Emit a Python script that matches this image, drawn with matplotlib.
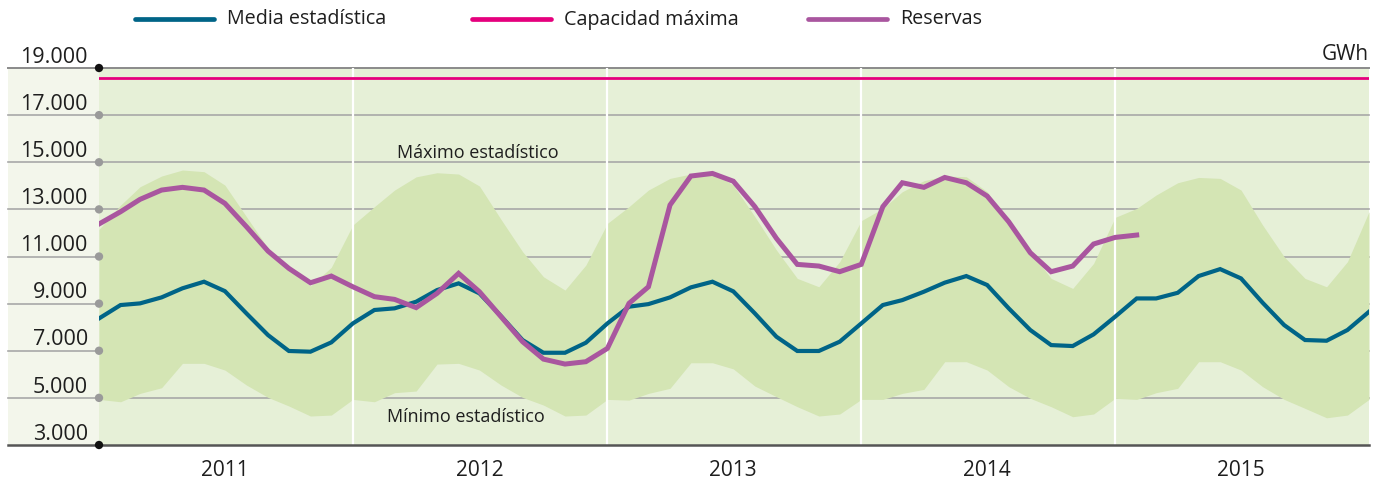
import pandas as pd
from matplotlib import pyplot as plt
from matplotlib.lines import Line2D
from matplotlib.patches import Rectangle
from matplotlib.transforms import ScaledTranslation

plt.rcParams['font.family'] = ['Open Sans', 'DejaVu Sans']

# monthly values in GWh, Jan 2011 .. Jan 2016
MONTHS = pd.date_range('2011-01-01', '2016-01-01', freq='MS')

MEDIA = [8370, 8940, 9010, 9265, 9650, 9930, 9530, 8585, 7665, 6990, 6960, 7355,
         8160, 8730, 8800, 9080, 9575, 9860, 9435, 8470, 7455, 6915, 6915, 7340,
         8160, 8870, 8980, 9265, 9690, 9930, 9520, 8585, 7595, 6990, 6990, 7385,
         8160, 8940, 9150, 9505, 9890, 10170, 9790, 8800, 7880, 7240, 7200, 7695,
         8445, 9220, 9220, 9460, 10170, 10465, 10070, 9040, 8090, 7455, 7425, 7880, 8655]

MAXIMO = [12150, 13180, 13960, 14415, 14670, 14600, 14030, 12690, 11345, 10425, 9745, 10540,
          12335, 13115, 13820, 14380, 14555, 14500, 13990, 12575, 11205, 10140, 9575, 10635,
          12405, 13115, 13820, 14315, 14500, 14555, 14030, 12690, 11275, 10070, 9715, 10780,
          12520, 13040, 13750, 14215, 14415, 14385, 13750, 12405, 11205, 10070, 9645, 10705,
          12660, 13040, 13610, 14130, 14355, 14315, 13820, 12335, 10990, 10070, 9715, 10780, 12900]

MINIMO = [4935, 4835, 5190, 5430, 6465, 6465, 6180, 5545, 5020, 4655, 4230, 4270,
          4935, 4835, 5220, 5290, 6435, 6465, 6180, 5545, 5020, 4695, 4230, 4270,
          4935, 4905, 5190, 5405, 6490, 6490, 6230, 5500, 5050, 4625, 4230, 4315,
          4935, 4935, 5190, 5360, 6535, 6535, 6180, 5475, 4980, 4625, 4200, 4315,
          4980, 4935, 5220, 5405, 6535, 6535, 6180, 5475, 4935, 4555, 4155, 4270, 4935]

RESERVAS = [12380, 12900, 13425, 13820, 13935, 13820, 13255, 12265, 11230, 10495, 9885, 10170,
            9715, 9295, 9180, 8830, 9435, 10285, 9505, 8445, 7385, 6645, 6435, 6535,
            7100, 9010, 9715, 13185, 14415, 14525, 14195, 13115, 11770, 10665, 10595, 10355,
            10665, 13115, 14130, 13935, 14355, 14130, 13565, 12475, 11160, 10355, 10595, 11530,
            11810, 11910]

CAPACIDAD = 18560

YEARS = ['2011', '2012', '2013', '2014', '2015']
YTICKS = [3000, 5000, 7000, 9000, 11000, 13000, 15000, 17000, 19000]
YTICK_LABELS = ['3.000', '5.000', '7.000', '9.000', '11.000', '13.000', '15.000', '17.000', '19.000']

BLUE = '#006487'
PINK = '#e5007d'
PURPLE = '#a9569f'
PLOT_BG = '#e6f0d7'
BAND = '#d4e5b4'
LEFT_BG = '#f3f6eb'
GRID = '#a8a8a8'
TEXT = '#1e1e1e'

W, H = 1387, 483
fig = plt.figure(figsize=(W / 100, H / 100), dpi=100)
ax = fig.add_axes([99 / W, 1 - 445 / H, 1270 / W, 377 / H])
ax.set_xlim(MONTHS[0], MONTHS[-1])
ax.set_ylim(3000, 19000)
ax.set_facecolor(PLOT_BG)
for spine in ax.spines.values():
    spine.set_visible(False)

left_ext = -91 / 1270
ax.add_patch(Rectangle((left_ext, 0), -left_ext, 1, transform=ax.transAxes,
                       color=LEFT_BG, lw=0, clip_on=False, zorder=0))

for value in YTICKS[1:-1]:
    ax.axhline(value, xmin=left_ext, xmax=1, color=GRID, lw=1.2, zorder=1, clip_on=False)
ax.axhline(19000, xmin=left_ext, xmax=1, color='#8a8a8a', lw=1.4, zorder=1, clip_on=False)

ax.fill_between(MONTHS, MINIMO, MAXIMO, color=BAND, lw=0, zorder=2)

for year in YEARS[1:]:
    ax.axvline(pd.Timestamp(f'{year}-01-01'), color='white', lw=1.6, zorder=3)

ax.axhline(CAPACIDAD, color=PINK, lw=2.0, zorder=4)
ax.plot(MONTHS, MEDIA, color=BLUE, lw=3.0, zorder=5, solid_joinstyle='miter')
ax.plot(MONTHS[:len(RESERVAS)], RESERVAS, color=PURPLE, lw=3.6, zorder=6, solid_joinstyle='miter')

ax.axhline(3000, xmin=left_ext, xmax=1, color='#555555', lw=1.8, zorder=7, clip_on=False)

dot_colors = ['#111111'] + ['#9a9a9a'] * (len(YTICKS) - 2) + ['#111111']
ax.scatter([MONTHS[0]] * len(YTICKS), YTICKS, s=36, c=dot_colors, lw=0, zorder=8, clip_on=False)

ax.set_yticks(YTICKS, labels=YTICK_LABELS)
ax.tick_params(axis='y', length=0, pad=8, labelsize=15.5, labelcolor=TEXT)
for label in ax.get_yticklabels():
    label.set_transform(label.get_transform() + ScaledTranslation(0, 13.3 / 100, fig.dpi_scale_trans))

ax.set_xticks([pd.Timestamp(f'{year}-07-01') for year in YEARS], labels=YEARS)
ax.tick_params(axis='x', length=0, pad=11, labelsize=15, labelcolor=TEXT)

ax.text(1, 1, 'GWh', transform=ax.transAxes + ScaledTranslation(0, 8 / 100, fig.dpi_scale_trans),
        ha='right', va='baseline', fontsize=15, color=TEXT)
ax.text(pd.Timestamp('2012-06-28'), 15400, 'Máximo estadístico', ha='center', va='center',
        fontsize=13, color=TEXT, zorder=9)
ax.text(pd.Timestamp('2012-06-12'), 4190, 'Mínimo estadístico', ha='center', va='center',
        fontsize=13, color=TEXT, zorder=9)

legend = [(BLUE, 'Media estadística', 135), (PINK, 'Capacidad máxima', 472), (PURPLE, 'Reservas', 808)]
for color, text, x0 in legend:
    fig.add_artist(Line2D([x0 / W, (x0 + 79) / W], [1 - 19 / H] * 2, color=color, lw=3.4,
                          solid_capstyle='round'))
    fig.text((x0 + 92) / W, 1 - 24.5 / H, text, ha='left', va='baseline', fontsize=14.2, color=TEXT)

fig.savefig('out.png', dpi=100)
plt.close(fig)
